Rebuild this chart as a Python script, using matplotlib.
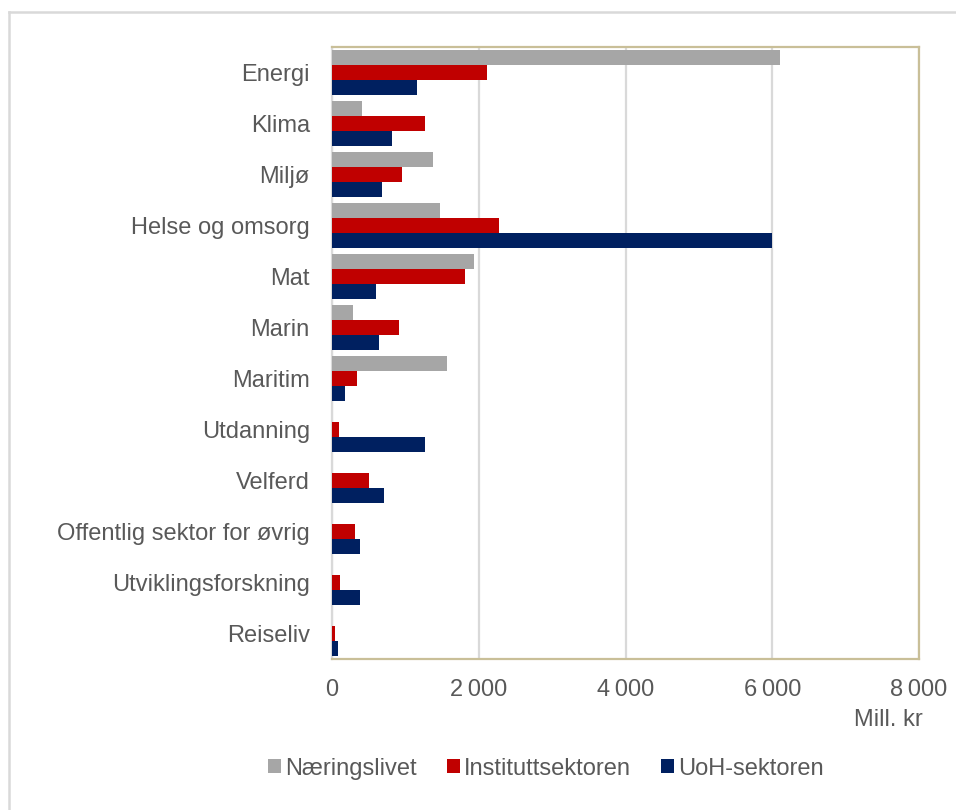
import matplotlib
matplotlib.use("Agg")
import matplotlib.pyplot as plt
from matplotlib.lines import Line2D
from matplotlib.patches import Patch
import numpy as np

plt.rcParams["font.family"] = ["Liberation Sans", "DejaVu Sans"]

# Kategorier og beløp (mill. kr) per sektor
kategorier = ["Energi", "Klima", "Miljø", "Helse og omsorg", "Mat", "Marin",
              "Maritim", "Utdanning", "Velferd", "Offentlig sektor for øvrig",
              "Utviklingsforskning", "Reiseliv"]
naeringslivet = [6100, 410, 1380, 1470, 1940, 280, 1570, 0, 0, 0, 0, 0]
instituttsektoren = [2110, 1270, 950, 2270, 1810, 910, 340, 90, 510, 320, 110, 35]
uoh_sektoren = [1160, 820, 680, 6000, 600, 640, 180, 1270, 710, 380, 380, 80]

serier = ["Næringslivet", "Instituttsektoren", "UoH-sektoren"]
farger = ["#A6A6A6", "#C00000", "#002060"]
xticks = [0, 2000, 4000, 6000, 8000]

TEKST = "#595959"
RAMME = "#C9BF98"
GRID = "#D9D9D9"
FS = 17

fig = plt.figure(figsize=(9.56, 8.1), dpi=100)
ax = fig.add_axes([0.3473, 0.186, 0.614, 0.7563])

y = np.arange(len(kategorier))
h = 0.295
for i, (verdier, farge) in enumerate(zip([naeringslivet, instituttsektoren, uoh_sektoren], farger)):
    ax.barh(y + (i - 1) * h, verdier, height=h, color=farge, zorder=3)

ax.set_ylim(len(kategorier) - 0.5, -0.5)
ax.set_xlim(0, 8000)
ax.set_yticks(y)
ax.set_yticklabels(kategorier, fontsize=FS, color=TEKST)
ax.set_xticks(xticks)
ax.set_xticklabels([f"{v:,}".replace(",", "\u2009") if v else "0" for v in xticks],
                   fontsize=FS, color=TEKST)
ax.tick_params(axis="both", length=0)
ax.tick_params(axis="x", pad=14)
ax.tick_params(axis="y", pad=16)

ax.xaxis.grid(True, color=GRID, linewidth=1.6, zorder=0)
ax.set_axisbelow(True)
for side in ["top", "right", "bottom"]:
    ax.spines[side].set_color(RAMME)
    ax.spines[side].set_linewidth(1.6)
ax.spines["left"].set_color(GRID)
ax.spines["left"].set_linewidth(1.6)

fig.text(0.965, 0.111, "Mill. kr", ha="right", va="center", fontsize=FS, color=TEKST)

handles = [Patch(facecolor=f, edgecolor="none") for f in farger]
fig.legend(handles, serier, loc="center", bbox_to_anchor=(0.571, 0.051),
           ncol=3, frameon=False, fontsize=FS, labelcolor=TEKST,
           handlelength=0.55, handleheight=0.55, handletextpad=0.2, columnspacing=1.25)

# ytre ramme (venstre og øvre kant)
fig.add_artist(Line2D([9 / 956, 9 / 956], [0, 1 - 12 / 810], color="#D9D9D9", linewidth=1.8))
fig.add_artist(Line2D([9 / 956, 1], [1 - 12 / 810, 1 - 12 / 810], color="#D9D9D9", linewidth=1.8))

fig.savefig("out.png", dpi=100)
